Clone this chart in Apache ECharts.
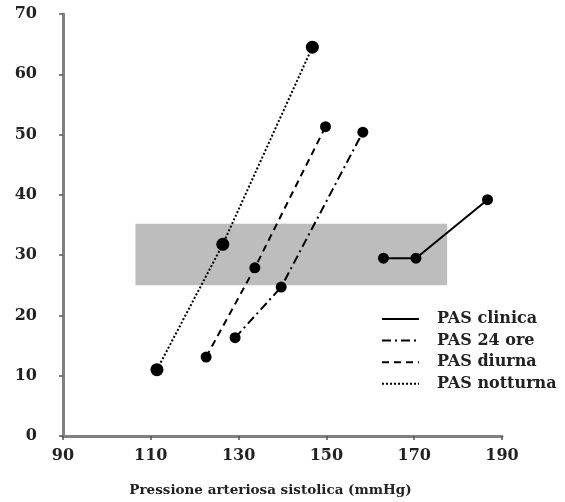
<!DOCTYPE html>
<html>
<head>
<meta charset="utf-8">
<script src="https://cdn.jsdelivr.net/npm/echarts@6/dist/echarts.min.js"></script>
<style>
  html, body { margin: 0; padding: 0; background: #fff; }
  #main { width: 565px; height: 502px; }
</style>
</head>
<body>
<div id="main"></div>
<script>
// dati
var seriesNames = ['PAS clinica', 'PAS 24 ore', 'PAS diurna', 'PAS notturna'];
var clinica  = [[163, 29.5], [170.4, 29.5], [186.7, 39.2]];
var ore24    = [[129.2, 16.3], [139.7, 24.7], [158.3, 50.4]];
var diurna   = [[122.6, 13.1], [133.7, 27.9], [149.8, 51.3]];
var notturna = [[111.4, 11], [126.4, 31.8], [146.8, 64.5]];
var banda = { x: [106.5, 177.5], y: [25, 35.2] };
var xTicks = [90, 110, 130, 150, 170, 190];
var yTicks = [0, 10, 20, 30, 40, 50, 60, 70];

var font = 'DejaVu Serif';

function makeLine(name, data, type, size){
  return {
    name: name,
    type: 'line',
    data: data,
    symbol: 'circle',
    symbolSize: size,
    itemStyle: { color: '#000' },
    lineStyle: { color: '#000', width: 2, type: type },
    z: 3
  };
}

var chart = echarts.init(document.getElementById('main'));
var option = {
  animation: false,
  grid: { left: 63, right: 63, top: 14, bottom: 64 },
  legend: {
    orient: 'vertical',
    left: 376,
    top: 305,
    itemWidth: 37,
    itemHeight: 12,
    itemGap: 3.6,
    itemStyle: { opacity: 0 },
    textStyle: { fontFamily: font, fontWeight: 'bold', fontSize: 16, lineHeight: 18, color: '#222', padding: [0, 0, 0, 13] },
    data: seriesNames
  },
  xAxis: {
    type: 'value',
    min: 90, max: 190, interval: 20,
    name: 'Pressione arteriosa sistolica (mmHg)',
    nameLocation: 'middle',
    nameGap: 47,
    nameTextStyle: { fontFamily: font, fontWeight: 'bold', fontSize: 13.5, color: '#222', padding: [0, 24, 0, 0] },
    axisLine: { lineStyle: { color: '#808080', width: 3 } },
    axisTick: { length: 4, lineStyle: { color: '#555', width: 1.5 } },
    axisLabel: { fontFamily: font, fontWeight: 'bold', fontSize: 16, color: '#222', margin: 12,
      formatter: function(v){ return xTicks.indexOf(v) >= 0 ? String(v) : ''; } },
    splitLine: { show: false }
  },
  yAxis: {
    type: 'value',
    min: 0, max: 70, interval: 10,
    axisLine: { show: true, lineStyle: { color: '#808080', width: 3 } },
    axisTick: { show: true, length: 4, lineStyle: { color: '#555', width: 1.5 } },
    axisLabel: { fontFamily: font, fontWeight: 'bold', fontSize: 16, color: '#222', margin: 26,
      formatter: function(v){ return yTicks.indexOf(v) >= 0 ? String(v) : ''; } },
    splitLine: { show: false }
  },
  series: [
    makeLine(seriesNames[0], clinica, 'solid', 11),
    makeLine(seriesNames[1], ore24, [9, 4, 2, 4], 11),
    makeLine(seriesNames[2], diurna, [7, 5], 11),
    makeLine(seriesNames[3], notturna, [2, 2], 13),
    {
      name: 'banda',
      type: 'line',
      data: [],
      markArea: {
        silent: true,
        itemStyle: { color: '#bdbdbd' },
        data: [[{ xAxis: banda.x[0], yAxis: banda.y[0] }, { xAxis: banda.x[1], yAxis: banda.y[1] }]]
      },
      z: 1
    }
  ]
};
chart.setOption(option);
</script>
</body>
</html>
